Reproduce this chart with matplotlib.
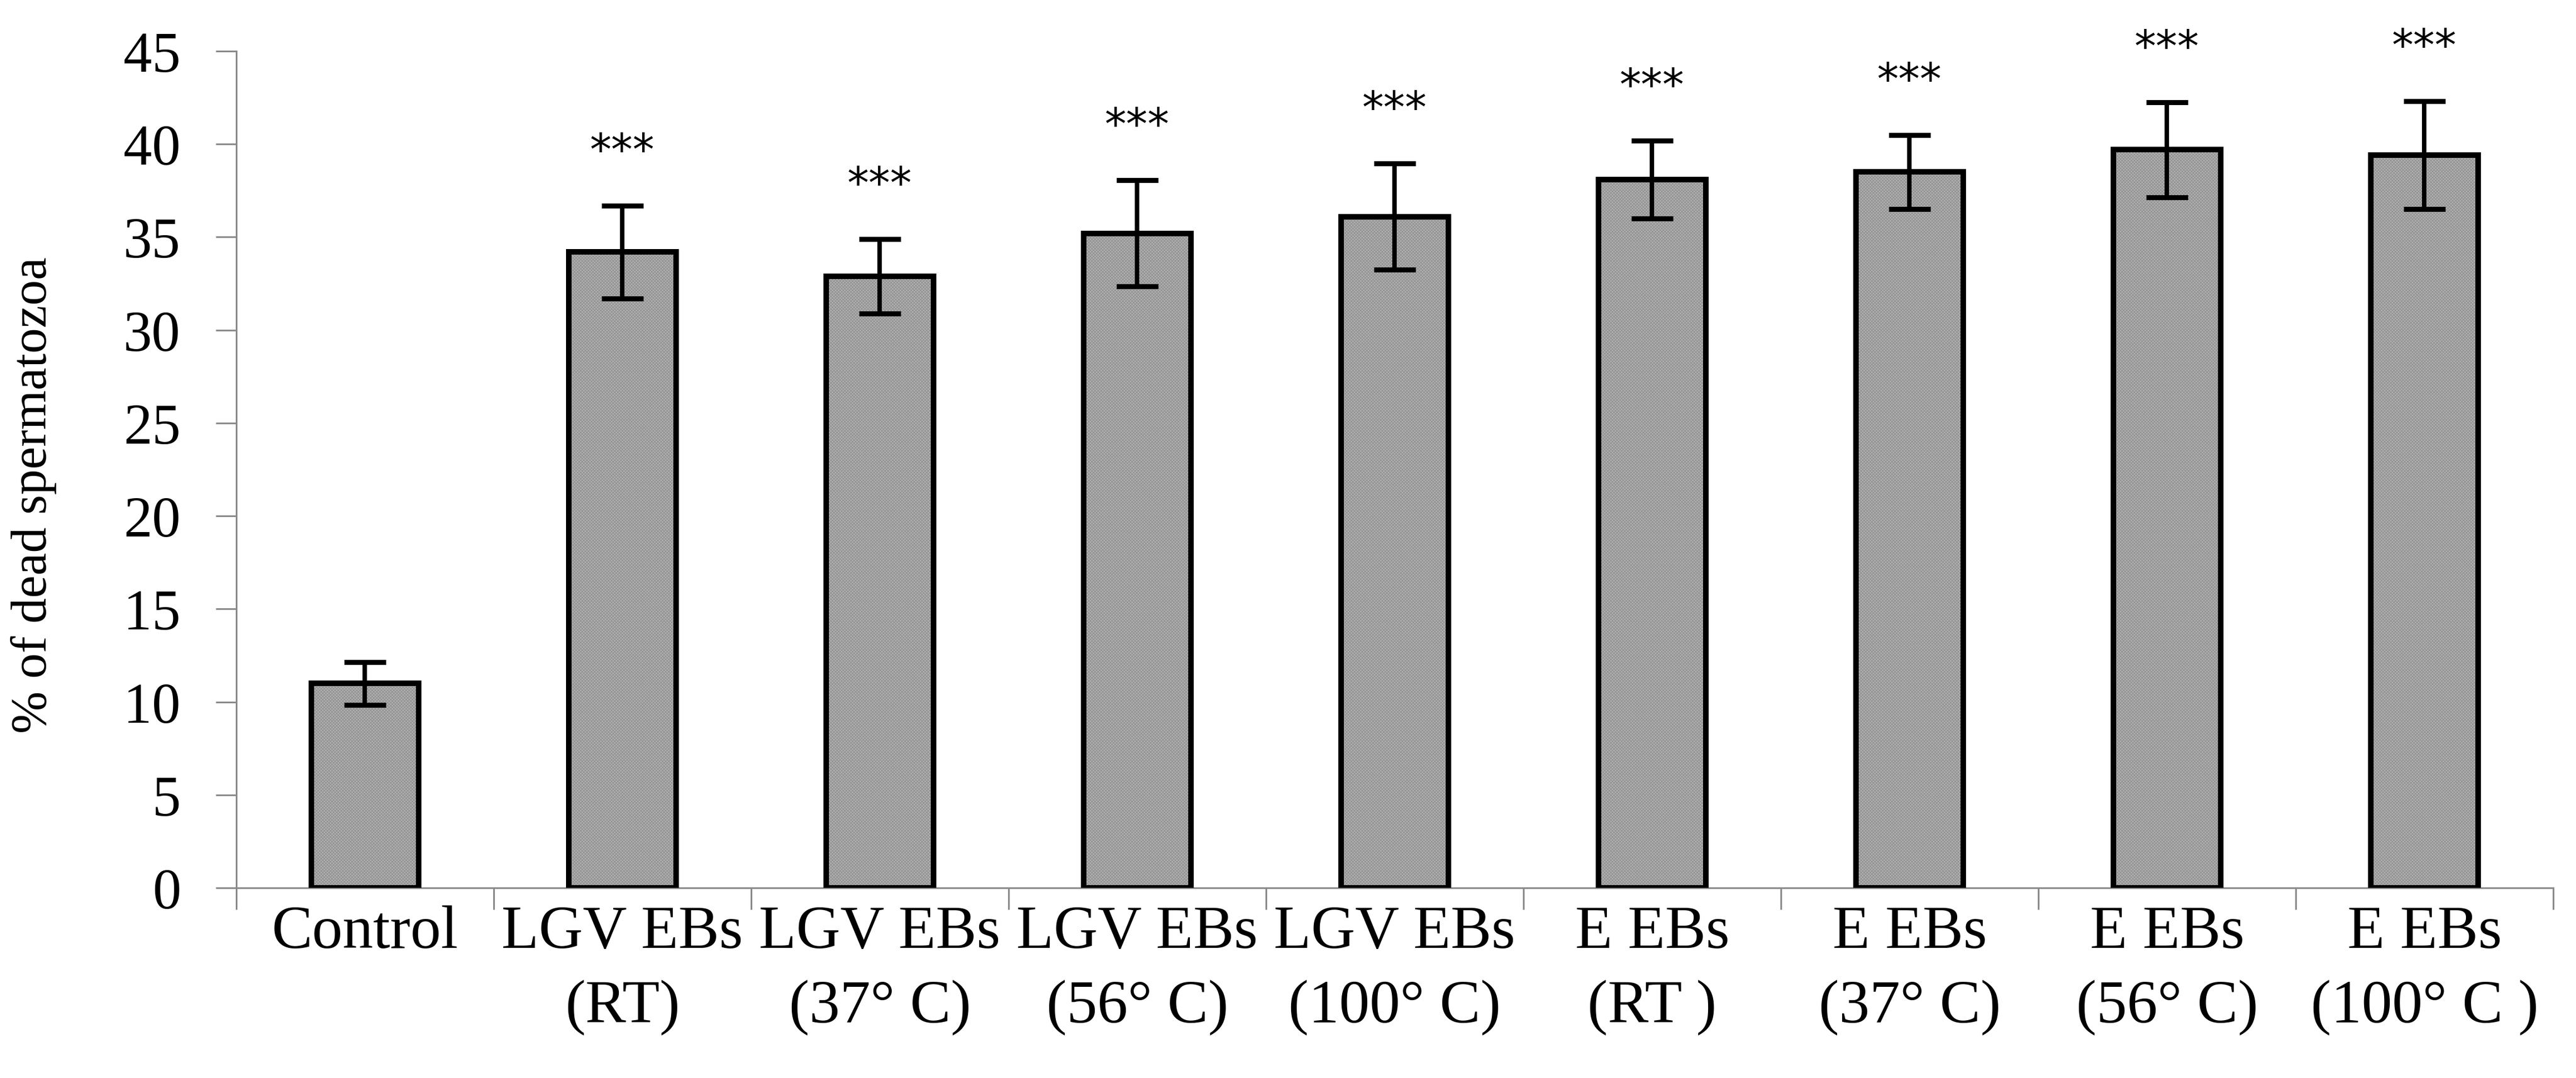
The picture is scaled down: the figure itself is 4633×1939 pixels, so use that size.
import numpy as np
import matplotlib
matplotlib.use("Agg")
import matplotlib.pyplot as plt

# group labels, mean % of dead spermatozoa and error (±)
groups = ["Control",
          "LGV EBs\n(RT)", "LGV EBs\n(37° C)", "LGV EBs\n(56° C)", "LGV EBs\n(100° C)",
          "E EBs\n(RT )", "E EBs\n(37° C)", "E EBs\n(56° C)", "E EBs\n(100° C )"]
means = [11.0, 34.2, 32.9, 35.2, 36.1, 38.1, 38.5, 39.7, 39.4]
errors = [1.15, 2.5, 2.0, 2.85, 2.85, 2.1, 2.0, 2.55, 2.9]
signif = ["", "***", "***", "***", "***", "***", "***", "***", "***"]
yticks = list(range(0, 46, 5))

serif = ["Liberation Serif", "DejaVu Serif"]
plt.rcParams["hatch.linewidth"] = 0.9

fig = plt.figure(figsize=(46.33, 19.40), dpi=100)
ax = fig.add_axes([0.09173, 0.17629, 0.89942, 0.77577])

x = np.arange(len(groups))
width = 0.417

# textured grey fill, then the black outline on top
ax.bar(x, means, width, color="#b2b2b2", edgecolor="#929292", linewidth=0,
       hatch="xxxxxx", zorder=2)
ax.bar(x, means, width, fill=False, edgecolor="black", linewidth=7.2, zorder=3)
ax.errorbar(x, means, yerr=errors, fmt="none", ecolor="black",
            elinewidth=5.8, capsize=27, capthick=6.5, zorder=4)

for xi, m, e, s in zip(x, means, errors, signif):
    if s:
        ax.annotate(s, (xi, m + e), xytext=(0, 54), textcoords="offset points",
                    ha="center", va="baseline", fontsize=56,
                    family="DejaVu Sans", annotation_clip=False)

ax.set_xlim(-0.5, len(groups) - 0.5)
ax.set_ylim(0, 45)
ax.set_yticks(yticks)

# boundary ticks between groups, labels centred under the bars
ax.set_xticks(np.arange(-0.5, len(groups), 1.0))
ax.set_xticklabels([])
ax.set_xticks(x, minor=True)
ax.set_xticklabels(groups, minor=True, family=serif, fontsize=79,
                   linespacing=1.45, va="top")
ax.tick_params(axis="x", which="minor", length=0, pad=22)
ax.tick_params(axis="x", which="major", length=28, width=2.2,
               color="#8a8a8a", direction="out")
ax.tick_params(axis="y", length=27, width=2.2, color="#8a8a8a",
               direction="out", pad=45, labelsize=74)
for lbl in ax.get_yticklabels():
    lbl.set_family(serif)

for side in ["top", "right"]:
    ax.spines[side].set_visible(False)
for side in ["left", "bottom"]:
    ax.spines[side].set_color("#8a8a8a")
    ax.spines[side].set_linewidth(2.2)

ax.set_ylabel("% of dead spermatozoa", family=serif, fontsize=66, va="center")
ax.yaxis.set_label_coords(-0.0875, 0.47)

fig.savefig("out.png", dpi=100, facecolor="white")
